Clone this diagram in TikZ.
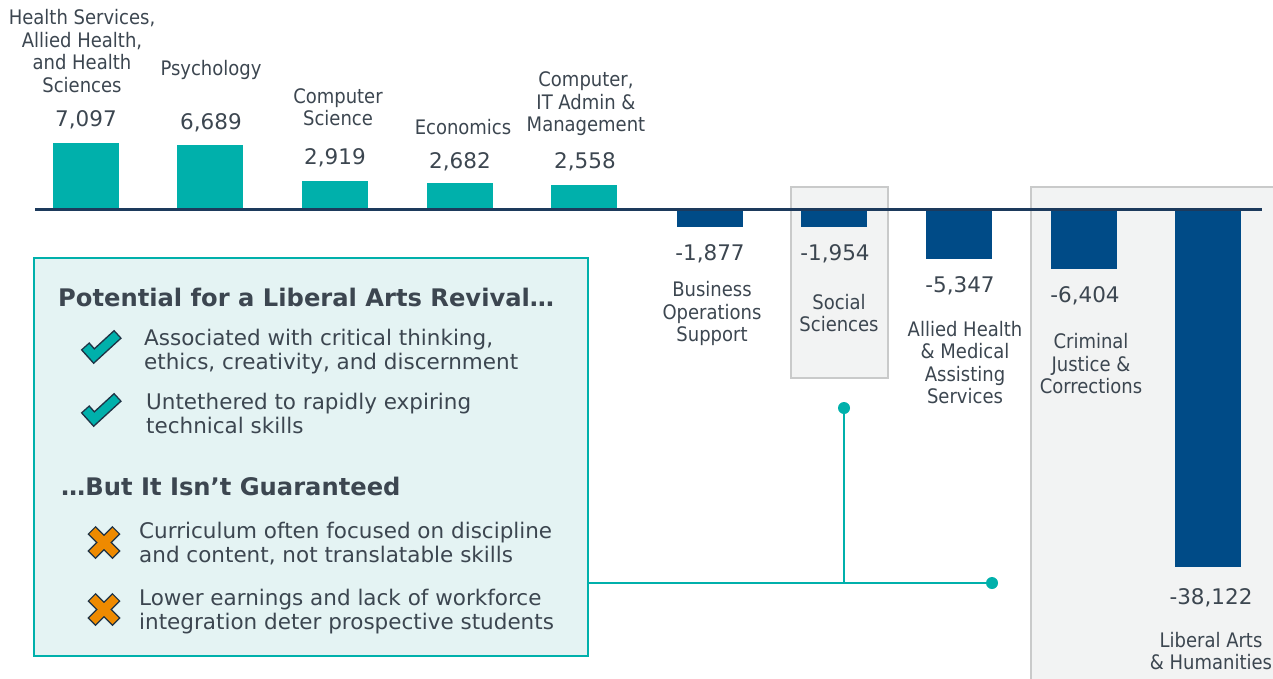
\documentclass[tikz,border=0pt]{standalone}
\usepackage{fontspec}
\setmainfont{DejaVu Sans}
\newfontfamily\condfont{DejaVu Sans Condensed}
\usetikzlibrary{positioning}

\definecolor{barteal}{HTML}{00B0AB}
\definecolor{barnavy}{HTML}{004B87}
\definecolor{axisnavy}{HTML}{1D3A5C}
\definecolor{labelgray}{HTML}{3C4650}
\definecolor{calloutfill}{HTML}{E4F3F3}
\definecolor{hlfill}{HTML}{F2F3F3}
\definecolor{hlline}{HTML}{C9CACA}
\definecolor{xorange}{HTML}{EE8A00}
\definecolor{markdark}{HTML}{1F3345}

\begin{document}
\begin{tikzpicture}[x=1pt,y=-1pt]
	\tikzstyle{every node}+=[inner sep=0pt,text=labelgray]
	\tikzstyle{cat}=[align=center,font=\condfont\fontsize{20}{22.5}\selectfont]
	\tikzstyle{num}=[font=\fontsize{21.5}{24}\selectfont]
	\tikzstyle{body}=[anchor=west,align=left,font=\fontsize{21.5}{24}\selectfont]
	\tikzstyle{head}=[anchor=west,font=\bfseries\fontsize{24.2}{27}\selectfont]
	\tikzstyle{hlbox}=[fill=hlfill,draw=hlline,line width=2pt]
	\tikzstyle{link}=[draw=barteal,line width=2.8pt]
	\tikzstyle{dot}=[circle,fill=barteal,minimum size=12pt]
	\useasboundingbox (0,0) rectangle (1273,678);
	% highlight panels
	\draw [hlbox] (791,187) rectangle (888,378);
	\draw [hlbox] (1031,187) rectangle (1285,690);
	% bars
	\foreach \cx/\top in {86/143,210/145,335/181,460/183,584/185}
		\fill [barteal] ({\cx-33},\top) rectangle ({\cx+33},209);
	\foreach \cx/\bot in {710/227,834/227,959/259,1084/269,1208/567}
		\fill [barnavy] ({\cx-33},210) rectangle ({\cx+33},\bot);
	\draw [axisnavy,line width=3pt] (35,209.5) -- (1262,209.5);
	% values
	\node [num] (v1) at (86,120) {7,097};
	\node [num] (v2) at (211,123) {6,689};
	\node [num] (v3) at (335,158) {2,919};
	\node [num] (v4) at (460,162) {2,682};
	\node [num] (v5) at (585,162) {2,558};
	\node [num] (v6) at (710,254) {-1,877};
	\node [num] (v7) at (835,254) {-1,954};
	\node [num] (v8) at (960,286) {-5,347};
	\node [num] (v9) at (1085,296) {-6,404};
	\node [num] (v10) at (1211,598) {-38,122};
	% categories
	\node [cat] (c1) at (82,51) {Health Services,\\Allied Health,\\and Health\\Sciences};
	\node [cat] (c2) at (211,70) {Psychology};
	\node [cat] (c3) at (338,107) {Computer\\Science};
	\node [cat] (c4) at (463,127) {Economics};
	\node [cat] (c5) at (586,104) {Computer,\\IT Admin \&\\Management};
	\node [cat] (c6) at (712,313.5) {Business\\Operations\\Support};
	\node [cat] (c7) at (839,313) {Social\\Sciences};
	\node [cat] (c8) at (965,362.5) {Allied Health\\\& Medical\\Assisting\\Services};
	\node [cat] (c9) at (1091,364) {Criminal\\Justice \&\\Corrections};
	\node [cat] (c10) at (1211,651) {Liberal Arts\\\& Humanities};
	% callout
	\node [fill=calloutfill,draw=barteal,line width=2.5pt,minimum width=554pt,minimum height=398pt] (revival) at (311,457) {};
	\node [head] (pro) at (58,297) {Potential for a Liberal Arts Revival…};
	\node [body] (pro1) at (144,351.5) {Associated with critical thinking,\\ethics, creativity, and discernment};
	\node [body] (pro2) at (146,413.5) {Untethered to rapidly expiring\\technical skills};
	\node [head] (con) at (61,486) {…But It Isn’t Guaranteed};
	\node [body] (con1) at (139,544) {Curriculum often focused on discipline\\and content, not translatable skills};
	\node [body] (con2) at (139,612) {Lower earnings and lack of workforce\\integration deter prospective students};
	% marks
	\foreach \cy in {348,411} {
		\draw [markdark,line width=11.5pt,miter limit=10] (85,\cy-2) -- (94,\cy+8) -- (118,\cy-14);
		\draw [barteal,line width=8.5pt,miter limit=10,shorten <=1.4pt,shorten >=1.4pt] (85,\cy-2) -- (94,\cy+8) -- (118,\cy-14);
	}
	\foreach \cy in {542.5,609.5} {
		\draw [markdark,line width=11.5pt] (91.5,\cy-12.5) -- (116.5,\cy+12.5) (116.5,\cy-12.5) -- (91.5,\cy+12.5);
		\draw [xorange,line width=8.8pt,shorten <=1.3pt,shorten >=1.3pt] (91.5,\cy-12.5) -- (116.5,\cy+12.5);
		\draw [xorange,line width=8.8pt,shorten <=1.3pt,shorten >=1.3pt] (116.5,\cy-12.5) -- (91.5,\cy+12.5);
	}
	% connector
	\node [dot] (ssdot) at (844,408) {};
	\node [dot] (ladot) at (992,583) {};
	\draw [link] (revival.east |- ladot) -- (ladot);
	\draw [link] (ssdot) -- (ssdot |- ladot);
\end{tikzpicture}
\end{document}
